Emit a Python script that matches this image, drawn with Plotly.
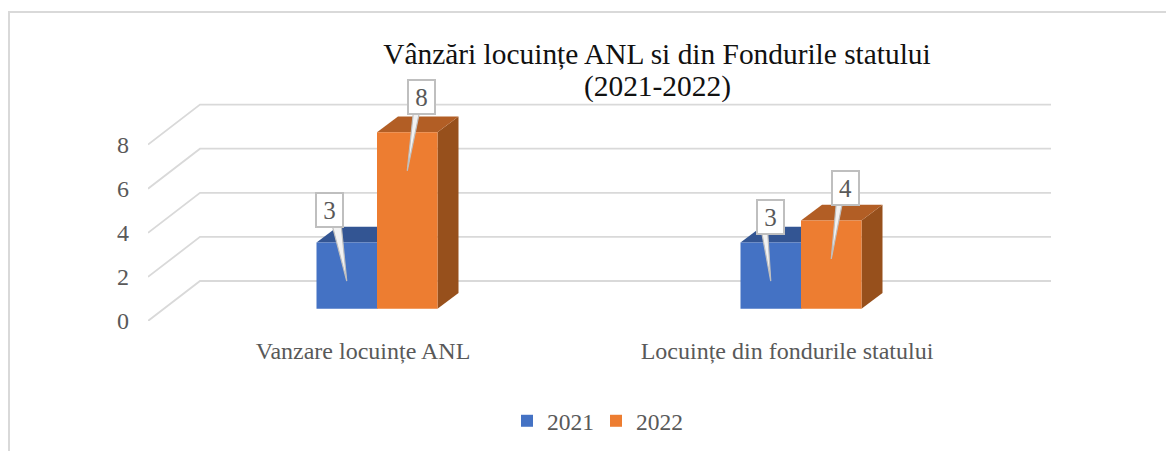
import plotly.graph_objects as go

# ---- data ----
title_line_1 = "Vânzări locuințe ANL si din Fondurile statului"
title_line_2 = "(2021-2022)"
categories = ["Vanzare locuințe ANL", "Locuințe din fondurile statului"]
series_names = ["2021", "2022"]
values_2021 = [3, 3]
values_2022 = [8, 4]
y_ticks = [0, 2, 4, 6, 8]

# ---- layout constants (pixels) ----
W, H = 1166, 451
L, R, T, B = 148, 115, 95, 130
PX_PER_CAT = 424.0
PX_PER_UNIT = 22.05
ZERO_CAT_PX = 377.0
plot_w, plot_h = W - L - R, H - T - B
dx = lambda px: px / PX_PER_CAT
dy = lambda px: px / PX_PER_UNIT

BAR_W = dx(60.5)
BASE = dy(12.3)
DEPTH_X, DEPTH_Y = dx(21), dy(15.7)
WALL_X, WALL_Y = dx(52), dy(40)
x_range = [dx(L - ZERO_CAT_PX), dx(W - R - ZERO_CAT_PX)]
y_range = [0, dy(plot_h)]
x_pos = list(range(len(categories)))

GRID = "#D9D9D9"
TXT = "#595959"
BLUE, BLUE_TOP, BLUE_SIDE = "#4472C4", "#335593", "#2F5597"
ORANGE, ORANGE_TOP, ORANGE_SIDE = "#ED7D31", "#B25E25", "#97501C"
FONT = "Liberation Serif"

fig = go.Figure()
shapes = []

# frame
def px2paper(px, py):
    return (px - L) / plot_w, (H - B - py) / plot_h
fx0, fy0 = px2paper(9, 460)
fx1, fy1 = px2paper(9, 12)
fx2, _ = px2paper(1170, 12)
shapes.append(dict(type="path", xref="paper", yref="paper", layer="below",
                   path=f"M {fx0},{fy0} L {fx1},{fy1} L {fx2},{fy1}",
                   line=dict(color=GRID, width=2)))

# floor/wall gridlines
for t in y_ticks:
    shapes.append(dict(type="path", xref="x", yref="y", layer="below",
                       path=(f"M {x_range[0]},{t} L {x_range[0]+WALL_X},{t+WALL_Y} "
                             f"L {x_range[1]},{t+WALL_Y}"),
                       line=dict(color=GRID, width=1.8)))

def poly(pts, color):
    p = "M " + " L ".join(f"{a},{b}" for a, b in pts) + " Z"
    return dict(type="path", xref="x", yref="y", layer="below", path=p,
                fillcolor=color, line=dict(width=0))

# 3-D faces, driven by the values
def faces(vals, offset, top_col, side_col):
    for c, v in zip(x_pos, vals):
        x0 = c + offset * BAR_W
        x1 = x0 + BAR_W
        yb, yt = BASE, BASE + v
        shapes.append(poly([(x1, yb), (x1 + DEPTH_X, yb + DEPTH_Y),
                            (x1 + DEPTH_X, yt + DEPTH_Y), (x1, yt)], side_col))
        shapes.append(poly([(x0, yt), (x0 + DEPTH_X, yt + DEPTH_Y),
                            (x1 + DEPTH_X, yt + DEPTH_Y), (x1, yt)], top_col))
faces(values_2021, -1, BLUE_TOP, BLUE_SIDE)
faces(values_2022, 0, ORANGE_TOP, ORANGE_SIDE)

# front faces
fig.add_bar(x=x_pos, y=values_2021, base=BASE, name=series_names[0],
            marker=dict(color=BLUE, line=dict(width=0)))
fig.add_bar(x=x_pos, y=values_2022, base=BASE, name=series_names[1],
            marker=dict(color=ORANGE, line=dict(width=0)))

# callouts: (series, cat) -> box centre offset from bar-top centre, wedge base ends (px)
callouts = {(0, 0): (-17.5, 33, 3, 12), (1, 0): (14, 35, -8, -2),
            (0, 1): (0, 26, -9, -3), (1, 1): (14, 33, -9, -3)}
TIP_DROP = 38.5
annotations = []
tx, _ = px2paper(657, 0)
_, ty = px2paper(0, 87)
annotations.append(dict(x=tx, y=ty, xref="paper", yref="paper", text=title_line_2,
                        showarrow=False, xanchor="center", yanchor="middle",
                        font=dict(family=FONT, size=29.4, color="#111111")))
for s, vals in enumerate([values_2021, values_2022]):
    for c, v in zip(x_pos, vals):
        ox, oy, b0, b1 = callouts[(s, c)]
        xc = c + (s - 0.5) * BAR_W
        yt = BASE + v
        bx, by = xc + dx(ox), yt + dy(oy - 16)
        fig.add_scatter(x=[bx + dx(b0), bx + dx(b1), xc, bx + dx(b0)],
                        y=[by, by, yt - dy(TIP_DROP), by],
                        mode="lines", fill="toself", fillcolor="#F2F2F2",
                        line=dict(color="#BFBFBF", width=1.2),
                        showlegend=False, hoverinfo="skip")
        annotations.append(dict(x=xc + dx(ox), y=yt + dy(oy), xref="x", yref="y",
                                text=str(v), showarrow=False, width=25, height=32,
                                font=dict(family=FONT, size=25, color=TXT),
                                bgcolor="white", bordercolor="#BFBFBF",
                                borderwidth=2, borderpad=0))

LABEL_SHIFT = dx(14)
fig.update_layout(
    width=W, height=H, autosize=False,
    margin=dict(l=L, r=R, t=T, b=B, pad=0),
    paper_bgcolor="white", plot_bgcolor="rgba(0,0,0,0)",
    barmode="group", bargap=1 - 2 * BAR_W, bargroupgap=0,
    title=dict(text=title_line_1, x=657 / W, xanchor="center", xref="container",
               y=1 - 43 / H, yanchor="top", yref="container",
               font=dict(family=FONT, size=29.4, color="#111111")),
    font=dict(family=FONT, color=TXT),
    xaxis=dict(range=x_range, tickmode="array",
               tickvals=[p - LABEL_SHIFT for p in x_pos], ticktext=categories,
               showgrid=False, zeroline=False, showline=False, ticks="",
               ticklabelstandoff=13,
               tickfont=dict(family=FONT, size=24, color=TXT)),
    yaxis=dict(range=y_range, tickmode="array", tickvals=y_ticks,
               ticktext=[str(t) for t in y_ticks],
               showgrid=False, zeroline=False, showline=False, ticks="",
               ticklabelstandoff=18,
               tickfont=dict(family=FONT, size=24, color=TXT)),
    legend=dict(orientation="h", x=596 / W, xanchor="center", xref="container",
                y=1 - 421 / H, yanchor="middle", yref="container",
                bgcolor="rgba(0,0,0,0)", traceorder="normal",
                entrywidth=44, entrywidthmode="pixels",
                font=dict(family=FONT, size=23.5, color=TXT)),
    shapes=shapes, annotations=annotations, showlegend=True,
)
fig.write_html("out.html", config=dict(displayModeBar=False),
               post_script="document.body.style.margin='0';document.body.style.overflow='hidden';")
